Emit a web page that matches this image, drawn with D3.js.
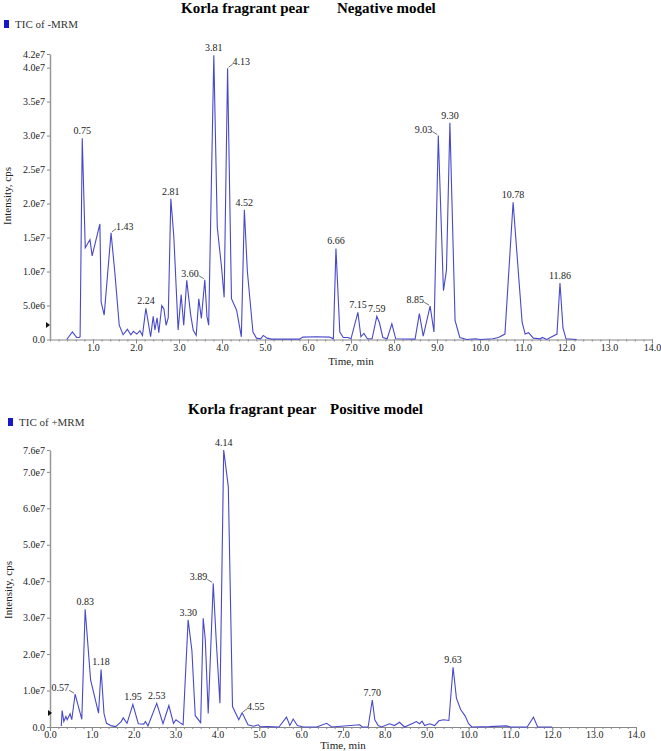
<!DOCTYPE html>
<html>
<head>
<meta charset="utf-8">
<script src="https://cdn.jsdelivr.net/npm/d3@7"></script>
<style>
  body { margin: 0; background: #fff; }
  text { font-family: "Liberation Serif", "Times New Roman", serif; }
</style>
</head>
<body>
<script>
// retention time (min) and intensity (x1e6 cps)
var negT = [0.39, 0.52, 0.62, 0.68, 0.70, 0.75, 0.82, 0.93, 0.98, 1.16, 1.19, 1.26, 1.42, 1.51, 1.61, 1.70, 1.80, 1.88, 1.94, 2.02,
  2.09, 2.15, 2.23, 2.34, 2.40, 2.44, 2.49, 2.53, 2.60, 2.65, 2.70, 2.75, 2.81, 2.88, 2.98, 3.05, 3.11, 3.18, 3.27, 3.33,
  3.40, 3.46, 3.52, 3.60, 3.65, 3.69, 3.81, 3.89, 3.99, 4.05, 4.13, 4.22, 4.34, 4.45, 4.52, 4.59, 4.72, 4.80, 4.90, 4.96,
  5.05, 5.15, 5.80, 5.88, 6.20, 6.50, 6.59, 6.65, 6.74, 6.82, 6.93, 7.00, 7.16, 7.23, 7.30, 7.38, 7.49, 7.60, 7.66, 7.74,
  7.84, 7.95, 8.04, 8.49, 8.59, 8.68, 8.84, 8.93, 9.03, 9.15, 9.22, 9.30, 9.42, 9.53, 9.69, 9.90, 10.00, 10.30, 10.43, 10.58,
  10.77, 10.86, 10.98, 11.05, 11.13, 11.24, 11.40, 11.45, 11.55, 11.79, 11.86, 11.93, 12.00, 12.25];
var negI = [0, 1.1, 0.3, 0.3, 0.4, 29.6, 13.5, 14.7, 12.3, 17.0, 5.5, 3.6, 15.7, 9.7, 2.1, 0.7, 1.5, 0.7, 1.2, 0.8,
  1.3, 0.6, 4.6, 0.4, 3.4, 1.4, 3.2, 1.0, 5.0, 4.5, 2.1, 3.2, 20.7, 15.1, 1.4, 6.6, 2.1, 8.7, 3.7, 1.4,
  0.6, 6.0, 3.1, 8.8, 3.4, 2.1, 41.8, 16.5, 10.6, 6.2, 39.9, 6.0, 4.3, 0.4, 19.1, 10.0, 1.1, 0.2, 0.1, 0.6,
  0.2, 0.05, 0.05, 0.35, 0.4, 0.35, 0.1, 13.4, 1.1, 0.3, 0.3, 0.1, 4.0, 0.4, 0.9, 0.1, 0.1, 3.4, 2.5, 0.3,
  0.1, 2.3, 0.1, 0.05, 3.8, 0.5, 4.9, 1.1, 30.0, 7.2, 10.2, 31.9, 2.8, 0.3, 0.0, 0.1, 0.0, 0.1, 0.3, 0.8,
  20.2, 12.6, 2.5, 0.8, 1.0, 0.2, 0.1, 0.3, 0.0, 0.8, 8.3, 1.7, 0.1, 0.0];

var posT = [0.27, 0.29, 0.33, 0.38, 0.41, 0.48, 0.52, 0.60, 0.76, 0.84, 0.97, 1.16, 1.22, 1.29, 1.35, 1.47, 1.57, 1.70, 1.75, 1.84,
  1.98, 2.11, 2.24, 2.28, 2.34, 2.55, 2.70, 2.84, 2.95, 3.01, 3.10, 3.18, 3.30, 3.39, 3.47, 3.60, 3.66, 3.71, 3.78, 3.90,
  3.97, 4.06, 4.15, 4.26, 4.36, 4.51, 4.59, 4.73, 4.86, 4.98, 5.02, 5.20, 5.47, 5.65, 5.73, 5.81, 5.91, 6.05, 6.37, 6.61,
  6.73, 7.40, 7.46, 7.60, 7.70, 7.76, 7.84, 7.92, 8.11, 8.23, 8.35, 8.47, 8.67, 8.75, 8.83, 8.89, 8.95, 9.07, 9.19, 9.29,
  9.40, 9.53, 9.63, 9.71, 9.81, 9.92, 10.00, 10.08, 10.50, 10.90, 11.00, 11.40, 11.55, 11.65, 12.00];
var posI = [0.3, 4.5, 1.5, 2.9, 2.0, 3.6, 2.0, 9.0, 2.1, 32.3, 12.9, 3.8, 15.8, 3.7, 1.0, 0.3, 0.1, 1.5, 2.5, 1.0,
  6.2, 0.9, 0.8, 1.5, 0.3, 6.5, 0.9, 5.9, 1.0, 2.0, 1.2, 0.6, 29.4, 21.0, 3.1, 1.2, 29.8, 24.0, 3.7, 39.4,
  24.0, 6.5, 76.0, 65.9, 5.6, 2.0, 3.9, 0.6, 0.2, 0.6, 0.05, 0.1, 0.0, 2.7, 0.4, 2.2, 0.4, 0.0, 0.0, 1.0,
  0.0, 0.6, 0.0, 0.0, 7.4, 2.0, 0.4, 0.0, 0.9, 0.4, 1.3, 0.0, 1.0, 1.5, 0.9, 1.6, 0.4, 0.9, 0.4, 1.7,
  2.0, 1.8, 16.4, 7.9, 4.8, 3.0, 0.9, 0.0, 0.1, 0.3, 0.0, 0.0, 2.7, 0.0, 0.0];

// labelled peaks
var negPeaks = ['0.75', '1.43', '2.24', '2.81', '3.60', '3.81', '4.13', '4.52', '6.66', '7.15', '7.59', '8.85', '9.03', '9.30', '10.78', '11.86'];
var posPeaks = ['0.57', '0.83', '1.18', '1.95', '2.53', '3.30', '3.89', '4.14', '4.55', '7.70', '9.63'];

// axis ticks
var negYTicks = [0, 5e6, 1e7, 1.5e7, 2e7, 2.5e7, 3e7, 3.5e7, 4e7, 4.2e7];
var posYTicks = [0, 1e7, 2e7, 3e7, 4e7, 5e7, 6e7, 7e7, 7.6e7];
var negXTicks = [1, 2, 3, 4, 5, 6, 7, 8, 9, 10, 11, 12, 13, 14];
var posXTicks = [0, 1, 2, 3, 4, 5, 6, 7, 8, 9, 10, 11, 12, 13, 14];

var svg = d3.select('body').append('svg').attr('width', 661).attr('height', 751);

function sci(v) {
  if (v === 0) return '0.0';
  var e = Math.floor(Math.log10(v));
  return (v / Math.pow(10, e)).toFixed(1) + 'e' + e;
}

function panel(o) {
  var x = d3.scaleLinear().domain([0, 14]).range([50, o.right]);
  var y = d3.scaleLinear().domain([0, o.ymax]).range([o.bottom, o.top]);
  var g = svg.append('g');

  // title
  g.append('text').attr('x', o.titleX1).attr('y', o.titleY)
    .attr('font-size', 15).attr('font-weight', 'bold').text('Korla fragrant pear');
  g.append('text').attr('x', o.titleX2).attr('y', o.titleY)
    .attr('font-size', 15).attr('font-weight', 'bold').text(o.mode);

  // legend
  g.append('rect').attr('x', o.legX).attr('y', o.legY - 8).attr('width', 5).attr('height', 8).attr('fill', '#1818c8');
  g.append('text').attr('x', o.legX + 11).attr('y', o.legY).attr('font-size', 11).attr('fill', '#333').text(o.legend);

  // minor x ticks
  g.append('g').attr('transform', 'translate(0,' + o.bottom + ')')
    .call(d3.axisBottom(x).tickValues(d3.range(0, 14.001, 0.2)).tickSize(2).tickSizeOuter(0).tickFormat(''))
    .call(function (a) { a.select('.domain').remove(); a.selectAll('line').attr('stroke', '#888'); });

  var xa = g.append('g').attr('transform', 'translate(0,' + o.bottom + ')')
    .call(d3.axisBottom(x).tickValues(o.xticks).tickSize(4).tickSizeOuter(0).tickFormat(function (d) { return d.toFixed(1); }));
  xa.select('.domain').attr('stroke', '#888');
  xa.selectAll('line').attr('stroke', '#888');
  xa.selectAll('text').attr('font-size', 10).attr('fill', '#222').attr('y', 4).attr('dy', '0.71em');

  var ya = g.append('g').attr('transform', 'translate(50,0)')
    .call(d3.axisLeft(y).tickValues(o.yticks).tickSize(3).tickSizeOuter(0).tickFormat(sci));
  ya.select('.domain').attr('stroke', '#999').attr('stroke-width', 1.5);
  ya.selectAll('line').attr('stroke', '#888');
  ya.selectAll('text').attr('font-size', 10).attr('fill', '#222').attr('x', -5);

  // axis titles
  g.append('text').attr('transform', 'translate(' + o.ylabX + ',' + o.ylabY + ') rotate(-90)')
    .attr('text-anchor', 'middle').attr('font-size', 11).attr('fill', '#222').text('Intensity, cps');
  g.append('text').attr('x', (50 + o.right) / 2).attr('y', o.xlabY)
    .attr('text-anchor', 'middle').attr('font-size', 11).attr('fill', '#222').text('Time, min');

  // threshold marker on the y axis
  g.append('path').attr('d', 'M' + (o.markX) + ',' + (o.markY - 3) + 'l4,3l-4,3z').attr('fill', '#111');

  // trace
  var pts = o.t.map(function (t, i) { return [t, o.i[i] * 1e6]; });
  g.append('path').datum(pts)
    .attr('fill', 'none').attr('stroke', '#4848cc').attr('stroke-width', 1.1)
    .attr('d', d3.line().x(function (d) { return x(d[0]); }).y(function (d) { return y(d[1]); }));

  // peak labels
  o.peaks.forEach(function (lab) {
    var tv = +lab, best = null;
    pts.forEach(function (p) {
      if (Math.abs(p[0] - tv) <= 0.07 && (!best || p[1] > best[1])) best = p;
    });
    var px = x(best[0]), py = y(best[1]);
    var side = o.side[lab];
    var t = g.append('text').attr('font-size', 10).attr('fill', '#222').text(lab);
    if (side === 'right') {
      g.append('path').attr('d', 'M' + (px + 1) + ',' + (py - 1) + 'L' + (px + 5) + ',' + (py - 4))
        .attr('stroke', '#333').attr('stroke-width', 0.7).attr('fill', 'none');
      t.attr('x', px + 5).attr('y', py - 3);
    } else if (side === 'left') {
      g.append('path').attr('d', 'M' + (px - 1) + ',' + (py - 1) + 'L' + (px - 6) + ',' + (py - 4))
        .attr('stroke', '#333').attr('stroke-width', 0.7).attr('fill', 'none');
      t.attr('x', px - 6).attr('y', py - 3).attr('text-anchor', 'end');
    } else {
      t.attr('x', px).attr('y', py - 4).attr('text-anchor', 'middle');
    }
  });
}

panel({
  mode: 'Negative model', legend: 'TIC of -MRM', t: negT, i: negI, peaks: negPeaks,
  yticks: negYTicks, xticks: negXTicks, ymax: 4.2e7,
  top: 54, bottom: 339.5, right: 652,
  titleX1: 181, titleX2: 337, titleY: 13, legX: 4, legY: 28,
  ylabX: 11, ylabY: 196, xlabY: 365, markX: 46, markY: 325,
  side: { '1.43': 'right', '4.13': 'right', '3.60': 'left', '8.85': 'left', '9.03': 'left' }
});

panel({
  mode: 'Positive model', legend: 'TIC of +MRM', t: posT, i: posI, peaks: posPeaks,
  yticks: posYTicks, xticks: posXTicks, ymax: 7.6e7,
  top: 450, bottom: 727, right: 636,
  titleX1: 188, titleX2: 330, titleY: 414, legX: 8, legY: 426,
  ylabX: 12, ylabY: 590, xlabY: 749, markX: 48, markY: 713,
  side: { '0.57': 'left', '3.89': 'left', '4.55': 'right' }
});
</script>
</body>
</html>
